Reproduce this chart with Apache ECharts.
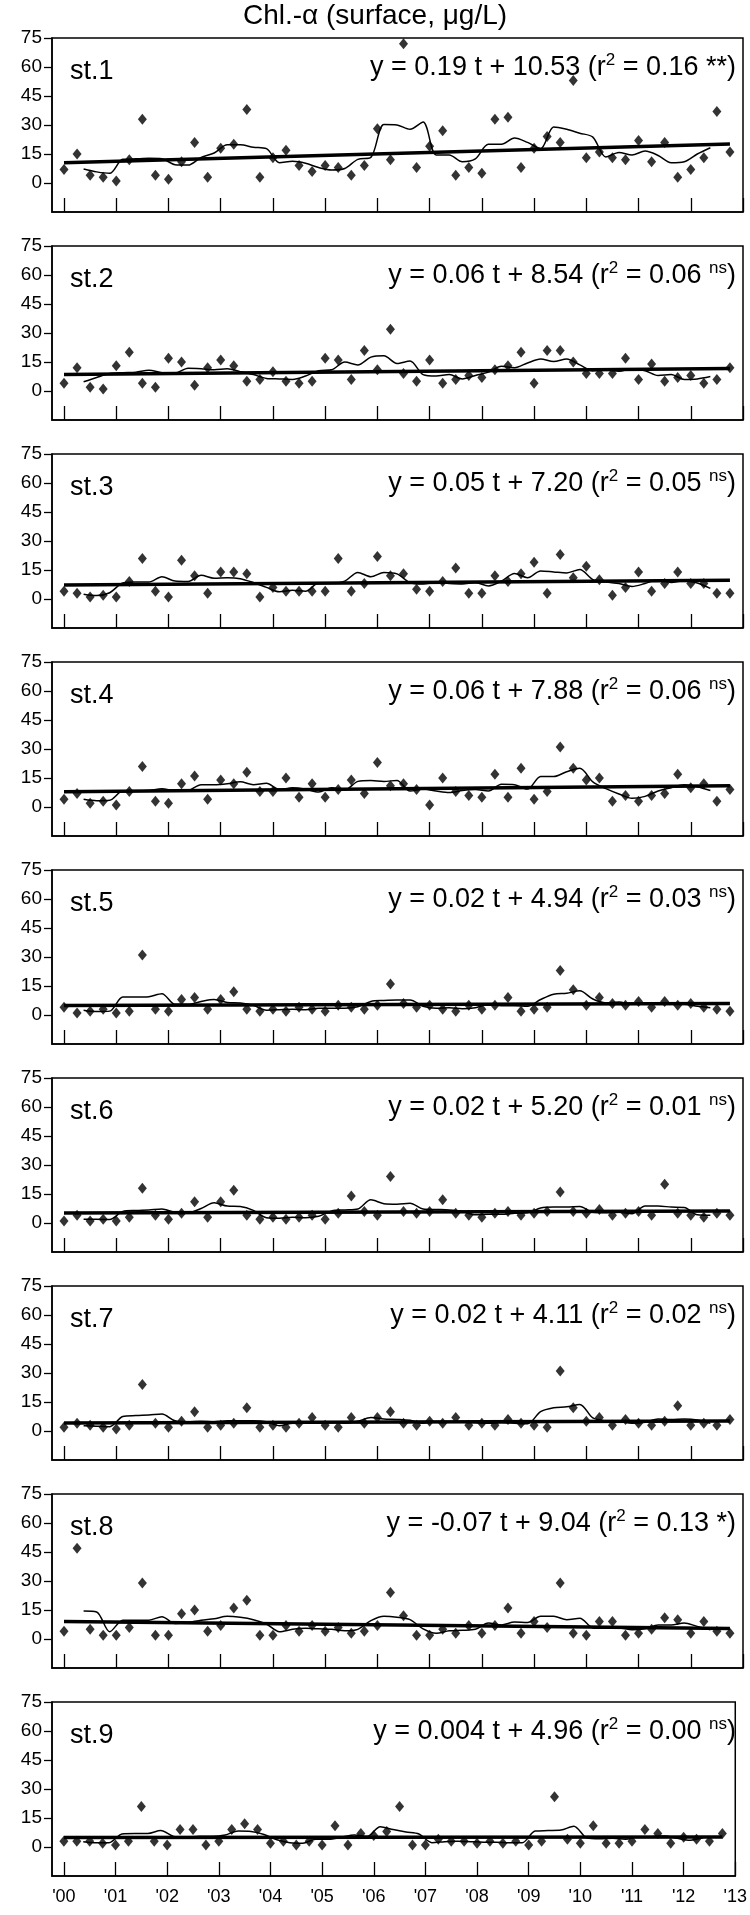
<!DOCTYPE html>
<html>
<head>
<meta charset="utf-8">
<script src="https://cdn.jsdelivr.net/npm/echarts@6/dist/echarts.min.js"></script>
<style>
  body { margin: 0; background: #fff; }
  #chart { width: 750px; height: 1915px; }
</style>
</head>
<body>
<div id="chart"></div>
<script>
// quarterly samples, '00 Q1 .. '12 Q4
const st1 = [7,15,4,3,1,12,33,4,2,11,21,3,18,20,38,3,13,17,9,6,9,8,4,9,28,12,72,8,19,27,4,8,5,33,34,8,18,24,21,53,13,16,13,12,22,11,21,3,7,13,37,16];
const st2 = [4,12,2,1,13,20,4,2,17,15,3,12,16,13,5,6,10,5,4,5,17,16,6,21,11,32,9,5,16,4,6,8,7,11,13,20,4,21,21,15,9,9,9,17,6,14,5,7,8,4,6,12];
const st3 = [4,3,1,2,1,9,21,4,1,20,12,3,14,14,13,1,6,4,4,4,4,21,4,8,22,12,13,5,4,9,16,3,3,12,9,13,19,3,23,11,17,10,2,6,14,4,8,14,8,8,3,3];
const st4 = [4,7,2,3,1,8,21,3,2,12,16,4,14,12,18,8,8,15,5,12,5,9,14,7,23,11,12,9,1,15,8,6,5,17,5,20,4,8,31,20,14,15,3,6,3,6,7,17,10,12,3,9];
const st5 = [4,1,2,3,1,2,31,3,2,8,9,3,8,12,3,2,3,2,4,3,2,5,4,3,5,16,6,4,5,3,2,5,3,5,9,2,3,4,23,13,5,9,6,5,7,4,7,5,6,4,3,2];
const st6 = [1,4,1,2,1,3,18,4,2,5,11,3,11,17,4,2,3,2,3,4,2,5,14,6,4,24,6,5,6,12,5,4,3,5,6,4,5,6,16,6,5,7,4,5,6,4,20,5,4,3,5,4];
const st7 = [2,4,3,2,1,3,24,4,2,5,10,2,3,4,12,2,3,2,4,7,3,2,7,4,7,10,4,3,5,4,7,3,4,3,6,4,3,2,31,12,5,7,3,6,4,3,5,13,3,4,3,6];
const st8 = [4,47,5,2,2,6,29,2,2,13,15,4,7,16,20,2,2,7,4,7,4,6,3,4,7,24,12,2,2,5,3,7,3,7,16,3,9,6,29,3,2,9,9,2,3,5,11,10,3,9,4,3];
const st9 = [3,3,3,2,1,3,21,3,1,9,9,1,3,9,12,9,2,3,1,3,1,11,1,7,6,8,21,1,1,4,3,3,2,3,2,3,1,3,26,4,2,11,2,2,3,9,7,2,5,4,3,7];

const stations = [st1, st2, st3, st4, st5, st6, st7, st8, st9];
const names = ["st.1","st.2","st.3","st.4","st.5","st.6","st.7","st.8","st.9"];
// trend y = a t + b, t in quarters
const slopes = [0.19, 0.06, 0.05, 0.06, 0.02, 0.02, 0.02, -0.07, 0.004];
const intercepts = [10.53, 8.54, 7.20, 7.88, 4.94, 5.20, 4.11, 9.04, 4.96];
const equations = [
  "y = 0.19 t + 10.53 (r{sup|2} = 0.16 **)",
  "y = 0.06 t + 8.54 (r{sup|2} = 0.06 {sup|ns})",
  "y = 0.05 t + 7.20 (r{sup|2} = 0.05 {sup|ns})",
  "y = 0.06 t + 7.88 (r{sup|2} = 0.06 {sup|ns})",
  "y = 0.02 t + 4.94 (r{sup|2} = 0.03 {sup|ns})",
  "y = 0.02 t + 5.20 (r{sup|2} = 0.01 {sup|ns})",
  "y = 0.02 t + 4.11 (r{sup|2} = 0.02 {sup|ns})",
  "y = -0.07 t + 9.04 (r{sup|2} = 0.13 *)",
  "y = 0.004 t + 4.96 (r{sup|2} = 0.00 {sup|ns})"
];
const yearTicks = [0,1,2,3,4,5,6,7,8,9,10,11,12,13];
const yTicks = [0,15,30,45,60,75];

const firstTop = 38, step = 208, span75 = 145;
const font = "Liberation Sans, Arial, sans-serif";

// 4-quarter running mean, placed at window centre
function movingMean(v) {
  const out = [];
  for (let i = 0; i + 3 < v.length; i++) {
    const m = (v[i] + v[i+1] + v[i+2] + v[i+3]) / 4;
    out.push([(i + 1.5) / 4, m]);
  }
  return out;
}

const grid = [], xAxis = [], yAxis = [], series = [], graphic = [];

stations.forEach(function(vals, i) {
  const last = i === stations.length - 1;
  const top = firstTop + step * i;
  grid.push({
    left: 52, right: 7, top: top, height: span75 * 90 / 75,
    show: true, borderColor: "#000", borderWidth: 1.5, containLabel: false
  });
  xAxis.push({
    type: "value", gridIndex: i, min: -0.23, max: 13, position: "bottom",
    axisLine: { show: true, onZero: false, lineStyle: { color: "#000", width: 1.5 } },
    splitLine: { show: false },
    axisTick: { show: true, inside: true, length: 14, customValues: yearTicks,
      lineStyle: { color: "#000", width: 1.3 } },
    axisLabel: { show: last, customValues: yearTicks, margin: 12, inside: false,
      fontSize: 18, color: "#000", fontFamily: font,
      formatter: function(v) { return "'" + String(Math.round(v)).padStart(2, "0"); } }
  });
  yAxis.push({
    type: "value", gridIndex: i, min: -15, max: 75,
    axisLine: { show: true, onZero: false, lineStyle: { color: "#000", width: 1.5 } },
    splitLine: { show: false },
    axisTick: { show: true, inside: false, length: 8, customValues: yTicks,
      lineStyle: { color: "#000", width: 1.3 } },
    axisLabel: { customValues: yTicks, margin: 10, fontSize: 19, color: "#000", fontFamily: font }
  });
  series.push({
    type: "scatter", xAxisIndex: i, yAxisIndex: i,
    symbol: "diamond", symbolSize: [9, 11],
    itemStyle: { color: "#000" },
    data: vals.map(function(v, k) { return [k / 4, v]; })
  });
  series.push({
    type: "line", xAxisIndex: i, yAxisIndex: i, showSymbol: false, smooth: 0.3,
    lineStyle: { color: "#000", width: 1.5 },
    data: movingMean(vals)
  });
  const n = vals.length - 1;
  series.push({
    type: "line", xAxisIndex: i, yAxisIndex: i, showSymbol: false,
    lineStyle: { color: "#000", width: 3.5 },
    data: [[0, intercepts[i]], [n / 4, intercepts[i] + slopes[i] * n]]
  });
  graphic.push({
    type: "text", left: 70, top: top + 20,
    style: { text: names[i], fontSize: 27, fill: "#000", fontFamily: font }
  });
  graphic.push({
    type: "text", right: 14, top: top + 14,
    style: {
      text: equations[i], fontSize: 27, fill: "#000", fontFamily: font,
      rich: { sup: { fontSize: 17, fontFamily: font, fill: "#000", padding: [0, 0, 14, 0] } }
    }
  });
});

graphic.push({
  type: "text", left: "center", top: 2,
  style: { text: "Chl.-α (surface, μg/L)", fontSize: 28, fill: "#000", fontFamily: font }
});

const myChart = echarts.init(document.getElementById("chart"));
myChart.setOption({
  animation: false,
  backgroundColor: "#fff",
  grid: grid,
  xAxis: xAxis,
  yAxis: yAxis,
  series: series,
  graphic: graphic
});
</script>
</body>
</html>
